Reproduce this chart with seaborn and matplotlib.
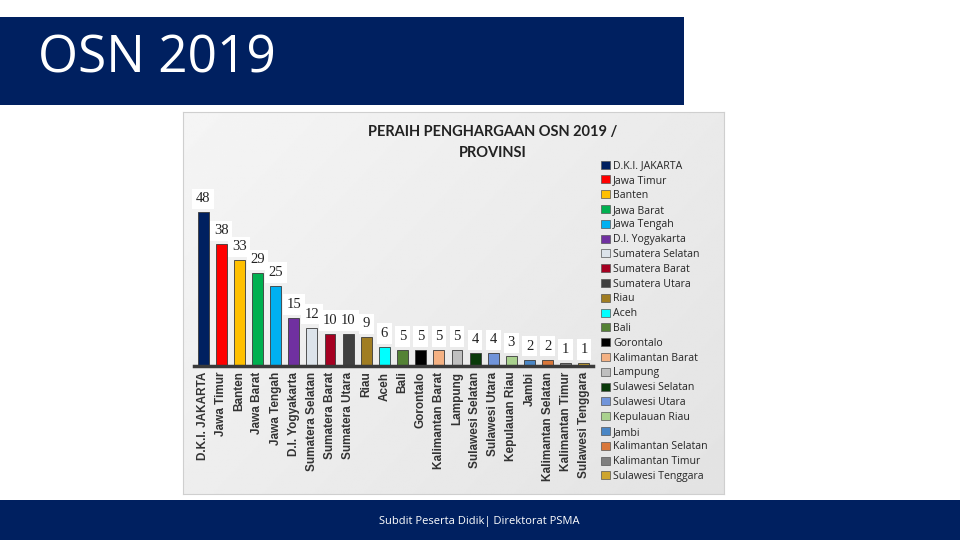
import matplotlib.pyplot as plt
import seaborn as sns
import pandas as pd
import numpy as np
from matplotlib.patches import Patch, Rectangle

# Data
provinces = ['D.K.I. JAKARTA', 'Jawa Timur', 'Banten', 'Jawa Barat', 'Jawa Tengah',
             'D.I. Yogyakarta', 'Sumatera Selatan', 'Sumatera Barat', 'Sumatera Utara',
             'Riau', 'Aceh', 'Bali', 'Gorontalo', 'Kalimantan Barat', 'Lampung',
             'Sulawesi Selatan', 'Sulawesi Utara', 'Kepulauan Riau', 'Jambi',
             'Kalimantan Selatan', 'Kalimantan Timur', 'Sulawesi Tenggara']
awards = [48, 38, 33, 29, 25, 15, 12, 10, 10, 9, 6, 5, 5, 5, 5, 4, 4, 3, 2, 2, 1, 1]
colors = ['#002060', '#FF0000', '#FFC000', '#00B050', '#00B0F0', '#7030A0', '#DCE3EA',
          '#A50021', '#404040', '#A07D22', '#00FFFF', '#548235', '#000000', '#F4B183',
          '#BFBFBF', '#0A3A0A', '#7094DA', '#A9D18E', '#4A86C5', '#D9773A', '#7F7F7F',
          '#CDA52E']

df = pd.DataFrame({'Provinsi': provinces, 'Jumlah': awards})
palette = dict(zip(provinces, colors))

sns.set_style('white')
plt.rcParams['font.family'] = ['Liberation Sans', 'DejaVu Sans']

fig = plt.figure(figsize=(9.6, 5.4), dpi=100)
fig.patch.set_facecolor('white')

# slide decorations
fig.patches.append(Rectangle((0, 0.8056), 0.7125, 0.163, transform=fig.transFigure,
                             facecolor='#002060', edgecolor='none', zorder=0))
fig.patches.append(Rectangle((0, 0), 1, 0.074, transform=fig.transFigure,
                             facecolor='#002060', edgecolor='none', zorder=0))
fig.text(0.04, 0.89, 'OSN 2019', color='white', fontsize=37, va='center', ha='left',
         family=['Open Sans', 'DejaVu Sans'])
fig.text(0.499, 0.035, 'Subdit Peserta Didik| Direktorat PSMA', color='white', fontsize=8,
         va='center', ha='center', family=['Open Sans', 'DejaVu Sans'])

# chart panel with a soft gradient
bg = fig.add_axes([0.1906, 0.0852, 0.5636, 0.7074], zorder=0)
grad = np.linspace(0, 1, 256)
gx, gy = np.meshgrid(grad, grad)
bg.imshow(0.96 - 0.07 * (0.6 * gx + 0.4 * gy), cmap='gray', vmin=0, vmax=1,
          aspect='auto', extent=[0, 1, 0, 1])
bg.set_xticks([])
bg.set_yticks([])
for s in bg.spines.values():
    s.set_color('#CFCFCF')

ax = fig.add_axes([0.2021, 0.3222, 0.4156, 0.326], zorder=1)
ax.patch.set_alpha(0)
sns.barplot(data=df, x='Provinsi', y='Jumlah', hue='Provinsi', palette=palette,
            saturation=1, dodge=False, legend=False, width=0.6, ax=ax,
            edgecolor='#3A3A3A', linewidth=0.6)
ax.set_ylim(0, 55)
ax.set_xlim(-0.5, len(provinces) - 0.5)
ax.set_xlabel('')
ax.set_ylabel('')
ax.set_yticks([])
for side in ['top', 'right', 'left']:
    ax.spines[side].set_visible(False)
ax.spines['bottom'].set_color('#3A3A3A')
ax.spines['bottom'].set_linewidth(2.5)
ax.tick_params(axis='x', length=0, pad=4)
ax.set_xticks(range(len(provinces)))
ax.set_xticklabels(provinces, rotation=90, fontsize=8.5, fontweight='bold', color='#333333')

for i, v in enumerate(awards):
    ax.annotate(str(v), (i, v), xytext=(0, 5), textcoords='offset points',
                ha='center', va='bottom', fontsize=10.5, color='#222222',
                family=['Liberation Serif', 'DejaVu Serif'],
                bbox=dict(boxstyle='square,pad=0.25', facecolor='white', edgecolor='none'))

fig.text(0.513, 0.736, 'PERAIH PENGHARGAAN OSN 2019 /\nPROVINSI', ha='center', va='center',
         fontsize=10.5, fontweight='bold', color='#222222', linespacing=1.6,
         family=['Lato', 'DejaVu Sans'])

handles = [Patch(facecolor=c, edgecolor='#555555', linewidth=0.5) for c in colors]
fig.legend(handles, provinces, loc='upper left', bbox_to_anchor=(0.622, 0.711),
           frameon=False, handlelength=0.8, handleheight=0.8,
           handletextpad=0.3, labelspacing=0.36, borderaxespad=0,
           prop={'family': ['Open Sans', 'DejaVu Sans'], 'size': 7.6})

fig.savefig('out.png', dpi=100)
